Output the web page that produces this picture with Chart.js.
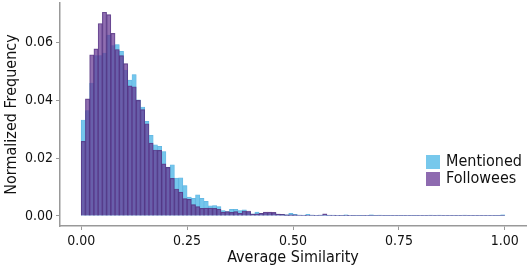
<!DOCTYPE html>
<html>
<head>
<meta charset="utf-8">
<script src="https://cdn.jsdelivr.net/npm/chart.js@4/dist/chart.umd.min.js"></script>
<style>
  html, body { margin: 0; padding: 0; background: #fff; }
  #wrap { width: 529px; height: 270px; }
</style>
</head>
<body>
<div id="wrap"><canvas id="histChart"></canvas></div>
<script>
const seriesNames = ['Mentioned', 'Followees'];
const binWidth = 0.01;
const xTickValues = [0, 0.25, 0.5, 0.75, 1];
const yTickValues = [0, 0.02, 0.04, 0.06];

const mentioned = [
    0.0332, 0.0365, 0.0460, 0.0555, 0.0555, 0.0564, 0.0626, 0.0590, 0.0593, 0.0570,
    0.0505, 0.0470, 0.0489, 0.0402, 0.0377, 0.0327, 0.0279, 0.0246, 0.0241, 0.0223,
    0.0169, 0.0177, 0.0131, 0.0132, 0.0105, 0.0065, 0.0061, 0.0073, 0.0061, 0.0050,
    0.0035, 0.0036, 0.0032, 0.0018, 0.0015, 0.0023, 0.0023, 0.0018, 0.0021, 0.0012,
    0.0007, 0.0013, 0.0009, 0.0009, 0.0010, 0.0009, 0.0006, 0.0005, 0.0004, 0.0009,
    0.0005, 0.0003, 0.0003, 0.0005, 0.0003, 0.0002, 0.0003, 0.0004, 0.0002, 0.0003,
    0.0002, 0.0002, 0.0004, 0.0002, 0.0001, 0.0002, 0.0002, 0.0001, 0.0004, 0.0002,
    0.0003, 0.0001, 0.0002, 0.0001, 0.0001, 0.0002, 0.0001, 0.0001, 0.0002, 0.0001,
    0.0001, 0.0001, 0.0003, 0.0001, 0.0003, 0.0001, 0.0001, 0.0001, 0.0001, 0.0001,
    0.0003, 0.0001, 0.0001, 0.0001, 0.0001, 0.0001, 0.0001, 0.0001, 0.0002, 0.0004
];

const followees = [
    0.0258, 0.0405, 0.0558, 0.0578, 0.0666, 0.0705, 0.0697, 0.0632, 0.0576, 0.0555,
    0.0527, 0.0450, 0.0447, 0.0400, 0.0368, 0.0319, 0.0252, 0.0228, 0.0227, 0.0180,
    0.0168, 0.0130, 0.0093, 0.0082, 0.0060, 0.0057, 0.0039, 0.0032, 0.0026, 0.0027,
    0.0027, 0.0026, 0.0023, 0.0013, 0.0015, 0.0012, 0.0015, 0.0009, 0.0017, 0.0017,
    0.0006, 0.0007, 0.0009, 0.0013, 0.0013, 0.0012, 0.0006, 0.0005, 0.0004, 0.0004,
    0.0004, 0.0003, 0.0002, 0.0002, 0.0003, 0.0002, 0.0003, 0.0007, 0.0003, 0.0002,
    0.0002, 0.0001, 0.0002, 0.0002, 0.0001, 0.0001, 0.0001, 0.0002, 0.0001, 0.0001,
    0.0001, 0.0001, 0.0001, 0.0001, 0.0001, 0.0001, 0.0001, 0.0001, 0.0001, 0.0001,
    0.0001, 0.0001, 0.0001, 0.0001, 0.0001, 0.0001, 0.0001, 0.0001, 0.0001, 0.0001,
    0.0001, 0.0001, 0.0001, 0.0001, 0.0001, 0.0001, 0.0001, 0.0001, 0.0001, 0.0001
];

const fontFamily = "'Liberation Sans Narrow', 'DejaVu Sans Condensed', 'Roboto', sans-serif";

function toPoints(values) {
    return values.map((v, i) => ({ x: i * binWidth + binWidth / 2, y: v }));
}

// draws the legend inside the plot, bottom right like the original
const insideLegend = {
    id: 'insideLegend',
    afterDatasetsDraw(chart) {
        const ctx = chart.ctx;
        const swatches = ['#77c8ec', '#8e6bb0'];
        ctx.save();
        ctx.font = '16px ' + fontFamily;
        ctx.textBaseline = 'middle';
        chart.data.datasets.forEach((ds, i) => {
            const y = 155 + i * 17;
            ctx.fillStyle = swatches[i];
            ctx.fillRect(426, y, 14, 14);
            ctx.fillStyle = '#111';
            ctx.fillText(ds.label, 446, y + 7);
        });
        ctx.restore();
    }
};

new Chart(document.getElementById('histChart').getContext('2d'), {
    type: 'bar',
    data: {
        datasets: [
            {
                label: seriesNames[0],
                data: toPoints(mentioned),
                backgroundColor: 'rgba(110,195,235,0.95)',
                borderColor: 'rgba(80,170,220,0.9)',
                borderWidth: 0.5,
                grouped: false,
                barPercentage: 1,
                categoryPercentage: 1,
                order: 1
            },
            {
                label: seriesNames[1],
                data: toPoints(followees),
                backgroundColor: 'rgba(100,55,145,0.72)',
                borderColor: 'rgba(75,45,120,0.8)',
                borderWidth: 0.5,
                grouped: false,
                barPercentage: 1,
                categoryPercentage: 1,
                order: 0
            }
        ]
    },
    options: {
        responsive: true,
        maintainAspectRatio: false,
        animation: false,
        layout: { padding: { top: 3, right: 3, left: 0, bottom: 0 } },
        plugins: {
            legend: { display: false },
            tooltip: { enabled: false }
        },
        scales: {
            x: {
                type: 'linear',
                offset: false,
                min: -0.05,
                max: 1.05,
                afterBuildTicks: (scale) => { scale.ticks = xTickValues.map(v => ({ value: v })); },
                afterFit: (scale) => {
                    scale.height = 44;
                    scale.paddingLeft = 0;
                    scale.paddingRight = 0;
                },
                ticks: {
                    callback: (v) => Number(v).toFixed(2),
                    color: '#111',
                    font: { family: fontFamily, size: 14 },
                    padding: 3,
                    maxRotation: 0
                },
                grid: { drawOnChartArea: false, drawTicks: true, tickLength: 4, color: '#999', offset: false },
                border: { display: true, color: '#999', width: 1.5 },
                title: {
                    display: true,
                    text: 'Average Similarity',
                    color: '#111',
                    font: { family: fontFamily, size: 16 },
                    padding: { top: 0, bottom: 3 }
                }
            },
            y: {
                min: -0.0035,
                max: 0.0737,
                afterBuildTicks: (scale) => { scale.ticks = yTickValues.map(v => ({ value: v })); },
                afterFit: (scale) => {
                    scale.width = 60;
                    scale.paddingTop = 0;
                    scale.paddingBottom = 0;
                },
                ticks: {
                    callback: (v) => Number(v).toFixed(2),
                    color: '#111',
                    font: { family: fontFamily, size: 14 },
                    padding: 3
                },
                grid: { drawOnChartArea: false, drawTicks: true, tickLength: 4, color: '#999' },
                border: { display: true, color: '#999', width: 1.5 },
                title: {
                    display: true,
                    text: 'Normalized Frequency',
                    color: '#111',
                    font: { family: fontFamily, size: 16 },
                    padding: { top: 2, bottom: 2 }
                }
            }
        }
    },
    plugins: [insideLegend]
});
</script>
</body>
</html>
